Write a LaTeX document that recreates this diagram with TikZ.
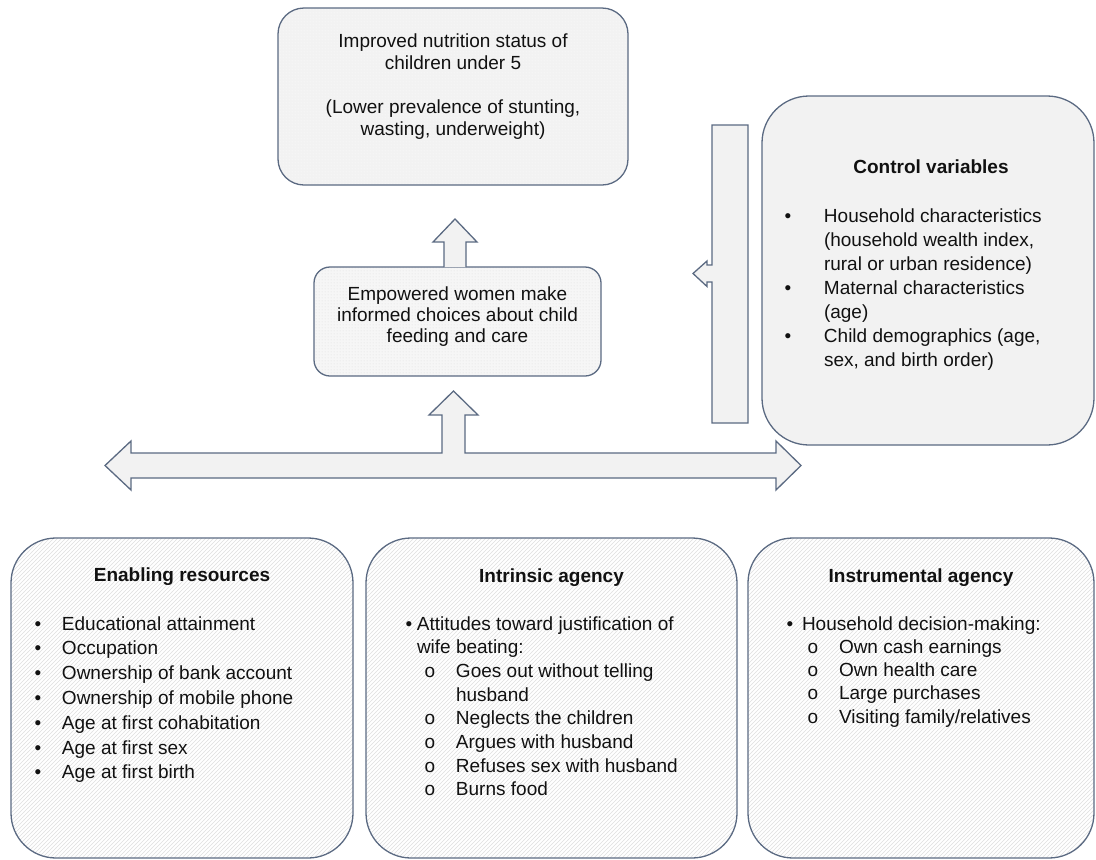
\documentclass[tikz,border=0pt]{standalone}
\usepackage{fontspec}
\setmainfont{Liberation Sans}
\usetikzlibrary{patterns}
\definecolor{bordc}{HTML}{5B6A82}
\definecolor{fillg}{HTML}{F2F2F2}
\definecolor{fillm}{HTML}{F6F6F6}
\definecolor{txtc}{HTML}{111111}
\pgfdeclarepatternformonly{myhatch}{\pgfqpoint{-1pt}{-1pt}}{\pgfqpoint{5pt}{5pt}}{\pgfqpoint{4pt}{4pt}}{%
  \pgfsetlinewidth{0.45pt}%
  \pgfpathmoveto{\pgfqpoint{-0.1pt}{-0.1pt}}\pgfpathlineto{\pgfqpoint{4.1pt}{4.1pt}}\pgfusepath{stroke}}
\pgfdeclarepatternformonly{mydots}{\pgfqpoint{0pt}{0pt}}{\pgfqpoint{3pt}{3pt}}{\pgfqpoint{3pt}{3pt}}{%
  \pgfpathcircle{\pgfqpoint{1.5pt}{1.5pt}}{0.55pt}\pgfusepath{fill}}
\tikzset{
  boxbase/.style={draw=bordc, line width=1.3pt, inner sep=0pt, outer sep=0pt, rectangle},
  hatchbox/.style={boxbase, rounded corners=45pt, pattern=myhatch, pattern color=gray!26},
  blockarrow/.style={draw=bordc, line width=1.3pt, fill=fillg, line join=miter},
  txt/.style={inner sep=0pt, outer sep=0pt, text=txtc, anchor=base},
  lst/.style={inner sep=0pt, outer sep=0pt, text=txtc, anchor=base west},
}
\begin{document}
\begin{tikzpicture}[x=1pt,y=-1pt]
\useasboundingbox (0,0) rectangle (1096,860);

% ---------- boxes ----------
\node[boxbase, rounded corners=26pt, minimum width=350pt, minimum height=177pt,
      preaction={fill=fillg}, pattern=mydots, pattern color=white] (top) at (453,96.5) {};
\node[boxbase, rounded corners=16pt, minimum width=287pt, minimum height=109pt,
      preaction={fill=fillm}, pattern=mydots, pattern color=gray!28] (mid) at (457.5,321.5) {};
\node[boxbase, rounded corners=47pt, minimum width=332pt, minimum height=349pt,
      fill=fillg] (ctrl) at (928,270.5) {};
\node[hatchbox, minimum width=342pt, minimum height=320pt] (enab) at (182,698) {};
\node[hatchbox, minimum width=371pt, minimum height=320pt] (intr) at (551.5,698) {};
\node[hatchbox, minimum width=346pt, minimum height=320pt] (inst) at (921,698) {};

% ---------- block arrows ----------
\coordinate (uptip) at (455,219);
\draw[blockarrow] (444,267) -- (444,242) -- (433,242) -- (uptip) -- (477,242) -- (466,242) -- (466,267);

\coordinate (ltip) at (105,465.5);
\coordinate (rtip) at (801,465.5);
\coordinate (ttip) at (453.5,391);
\draw[blockarrow] (ltip) -- (131,441) -- (131,453) -- (442,453) -- (442,415) -- (429,415)
  -- (ttip) -- (478,415) -- (465,415) -- (465,453) -- (776,453) -- (776,441)
  -- (rtip) -- (776,490) -- (776,478) -- (131,478) -- (131,490) -- cycle;

\coordinate (btip) at (693,273.5);
\draw[blockarrow] (748,125) -- (712,125) -- (712,265) -- (707,265) -- (707,261) -- (btip)
  -- (707,286.5) -- (707,282) -- (712,282) -- (712,423) -- (748,423) -- cycle;

% ---------- texts ----------
\node[txt, font=\fontsize{19}{22}\selectfont] (toptxt) at (453,47)
  {\begin{tabular}[t]{@{}c@{}}Improved nutrition status of\\children under 5\\ \\(Lower prevalence of stunting,\\wasting, underweight)\end{tabular}};

\node[txt, font=\fontsize{19}{21}\selectfont] (midtxt) at (457.5,300)
  {\begin{tabular}[t]{@{}c@{}}Empowered women make\\informed choices about child\\feeding and care\end{tabular}};

\node[txt, font=\bfseries\fontsize{19}{24}\selectfont] (ctrlt) at (931,173) {Control variables};
\node[lst, font=\fontsize{19}{24}\selectfont] (ctrll) at (784.7,222)
  {\begin{tabular}[t]{@{}p{39.3pt}@{}l@{}}
  \textbullet & Household characteristics\\
   & (household wealth index,\\
   & rural or urban residence)\\
  \textbullet & Maternal characteristics\\
   & (age)\\
  \textbullet & Child demographics (age,\\
   & sex, and birth order)
  \end{tabular}};

\node[txt, font=\bfseries\fontsize{19}{24}\selectfont] (enabt) at (182,581) {Enabling resources};
\node[lst, font=\fontsize{19}{24.8}\selectfont] (enabl) at (34.7,630)
  {\begin{tabular}[t]{@{}p{27.3pt}@{}l@{}}
  \textbullet & Educational attainment\\
  \textbullet & Occupation\\
  \textbullet & Ownership of bank account\\
  \textbullet & Ownership of mobile phone\\
  \textbullet & Age at first cohabitation\\
  \textbullet & Age at first sex\\
  \textbullet & Age at first birth
  \end{tabular}};

\node[txt, font=\bfseries\fontsize{19}{24}\selectfont] (intrt) at (551.5,582) {Intrinsic agency};
\node[lst, font=\fontsize{19}{23.7}\selectfont] (intrl) at (405.7,630)
  {\begin{tabular}[t]{@{}p{11.3pt}@{}p{39pt}@{}l@{}}
  \textbullet & \multicolumn{2}{@{}l@{}}{Attitudes toward justification of}\\
   & \multicolumn{2}{@{}l@{}}{wife beating:}\\
   & \hspace*{7.7pt}o & Goes out without telling\\
   & & husband\\
   & \hspace*{7.7pt}o & Neglects the children\\
   & \hspace*{7.7pt}o & Argues with husband\\
   & \hspace*{7.7pt}o & Refuses sex with husband\\
   & \hspace*{7.7pt}o & Burns food
  \end{tabular}};

\node[txt, font=\bfseries\fontsize{19}{24}\selectfont] (instt) at (921,582) {Instrumental agency};
\node[lst, font=\fontsize{19}{23.3}\selectfont] (instl) at (786.7,630)
  {\begin{tabular}[t]{@{}p{15.3pt}@{}p{37pt}@{}l@{}}
  \textbullet & \multicolumn{2}{@{}l@{}}{Household decision-making:}\\
   & \hspace*{5.7pt}o & Own cash earnings\\
   & \hspace*{5.7pt}o & Own health care\\
   & \hspace*{5.7pt}o & Large purchases\\
   & \hspace*{5.7pt}o & Visiting family/relatives
  \end{tabular}};
\end{tikzpicture}
\end{document}
